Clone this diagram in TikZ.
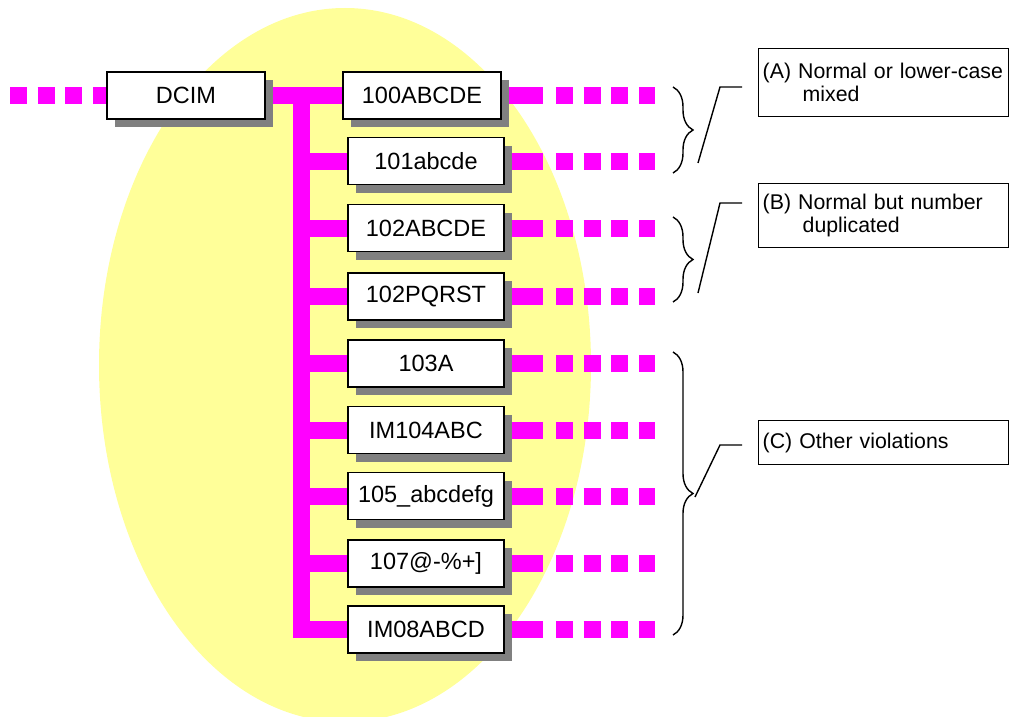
\documentclass[tikz,border=0pt]{standalone}
\usepackage{fontspec}
\setmainfont{Liberation Sans}
\usetikzlibrary{shadows,backgrounds,decorations.pathreplacing}
\definecolor{dirpink}{HTML}{FF00FF}
\definecolor{ovalyellow}{HTML}{FFFF99}
\definecolor{shadegray}{HTML}{808080}

\begin{document}
\begin{tikzpicture}[x=1pt, y=-1pt,
    folder/.style={draw, fill=white, line width=1.8pt, minimum width=156pt,
      minimum height=47pt, inner sep=0pt, font=\fontsize{23.5}{28}\selectfont,
      drop shadow={shadow xshift=8pt, shadow yshift=-8pt, fill=shadegray, opacity=1}},
    pipe/.style={dirpink, line width=17pt},
    dots/.style={dirpink, line width=17pt, dash pattern=on 17pt off 10.7pt},
    note/.style={draw, line width=1.4pt, anchor=north west, align=left,
      text width=242pt, inner xsep=4pt, inner ysep=0pt,
      font=\fontsize{21.3}{23}\selectfont},
    grp/.style={draw, line width=1.4pt, decorate, decoration={brace, amplitude=20pt}},
    lead/.style={draw, line width=1.4pt, shorten >=16pt},
  ]
    \useasboundingbox (0,0) rectangle (1010,717);

    % DCIM and the folders under it
    \node[folder, minimum width=158pt] (dcim) at (186,95.5) {DCIM};
    \node[folder, minimum width=158pt] (d100) at (422,95.5) {100ABCDE};
    \node[folder] (d101)  at (426,161)   {101abcde};
    \node[folder] (d102a) at (426,228)   {102ABCDE};
    \node[folder] (d102p) at (426,296.5) {102PQRST};
    \node[folder] (d103)  at (426,363.5) {103A};
    \node[folder] (d104)  at (426,430)   {IM104ABC};
    \node[folder] (d105)  at (426,496)   {105\_abcdefg};
    \node[folder] (d107)  at (426,563.5) {107@-\%+]};
    \node[folder] (d108)  at (426,629.5) {IM08ABCD};

    \coordinate (tk) at (301.5,95.5);  % top of the trunk
    \coordinate (xl) at (10,0);        % left end of the dots
    \coordinate (xs) at (543,0);       % end of the solid part
    \coordinate (xd) at (556,0);       % first dot
    \coordinate (xe) at (655,0);       % last dot

    \begin{scope}[on background layer]
      \clip (0,0) rectangle (1010,717);
      \fill[ovalyellow] (345,365) ellipse [x radius=246, y radius=357];

      % trunk and branches
      \draw[dots] (dcim.center -| xl) -- (dcim.center);
      \draw[pipe] (dcim.center) -- (d100.center);
      \draw[pipe, line join=miter] (tk) |- (d108.center);
      \draw[pipe] (tk |- d101.center)  -- (d101.center);
      \draw[pipe] (tk |- d102a.center) -- (d102a.center);
      \draw[pipe] (tk |- d102p.center) -- (d102p.center);
      \draw[pipe] (tk |- d103.center)  -- (d103.center);
      \draw[pipe] (tk |- d104.center)  -- (d104.center);
      \draw[pipe] (tk |- d105.center)  -- (d105.center);
      \draw[pipe] (tk |- d107.center)  -- (d107.center);

      % continuations to the right
      \draw[pipe] (d100.center)  -- (d100.center -| xs);
      \draw[dots] (d100.center -| xd)  -- (d100.center -| xe);
      \draw[pipe] (d101.center)  -- (d101.center -| xs);
      \draw[dots] (d101.center -| xd)  -- (d101.center -| xe);
      \draw[pipe] (d102a.center) -- (d102a.center -| xs);
      \draw[dots] (d102a.center -| xd) -- (d102a.center -| xe);
      \draw[pipe] (d102p.center) -- (d102p.center -| xs);
      \draw[dots] (d102p.center -| xd) -- (d102p.center -| xe);
      \draw[pipe] (d103.center)  -- (d103.center -| xs);
      \draw[dots] (d103.center -| xd)  -- (d103.center -| xe);
      \draw[pipe] (d104.center)  -- (d104.center -| xs);
      \draw[dots] (d104.center -| xd)  -- (d104.center -| xe);
      \draw[pipe] (d105.center)  -- (d105.center -| xs);
      \draw[dots] (d105.center -| xd)  -- (d105.center -| xe);
      \draw[pipe] (d107.center)  -- (d107.center -| xs);
      \draw[dots] (d107.center -| xd)  -- (d107.center -| xe);
      \draw[pipe] (d108.center)  -- (d108.center -| xs);
      \draw[dots] (d108.center -| xd)  -- (d108.center -| xe);
    \end{scope}

    % groups and notes
    \node[note, minimum height=68pt] (noteA) at (758,48)
      {(A) Normal or lower-case\\\hspace*{40pt}mixed};
    \node[note, minimum height=64pt] (noteB) at (758,183)
      {(B) Normal but number\\\hspace*{40pt}duplicated};
    \node[note, minimum height=44pt] (noteC) at (758,420)
      {(C) Other violations};

    \draw[grp] (673,87)  -- (673,173);
    \draw[grp] (673,217) -- (673,302);
    \draw[grp] (673,352) -- (673,635);

    \coordinate (kA) at (720,87);
    \coordinate (kB) at (720,203);
    \coordinate (kC) at (720,445);
    \draw[lead] (698,163) -- (kA) -- (kA -| noteA.west);
    \draw[lead] (698,293) -- (kB) -- (kB -| noteB.west);
    \draw[lead] (695,497) -- (kC) -- (kC -| noteC.west);
\end{tikzpicture}
\end{document}
